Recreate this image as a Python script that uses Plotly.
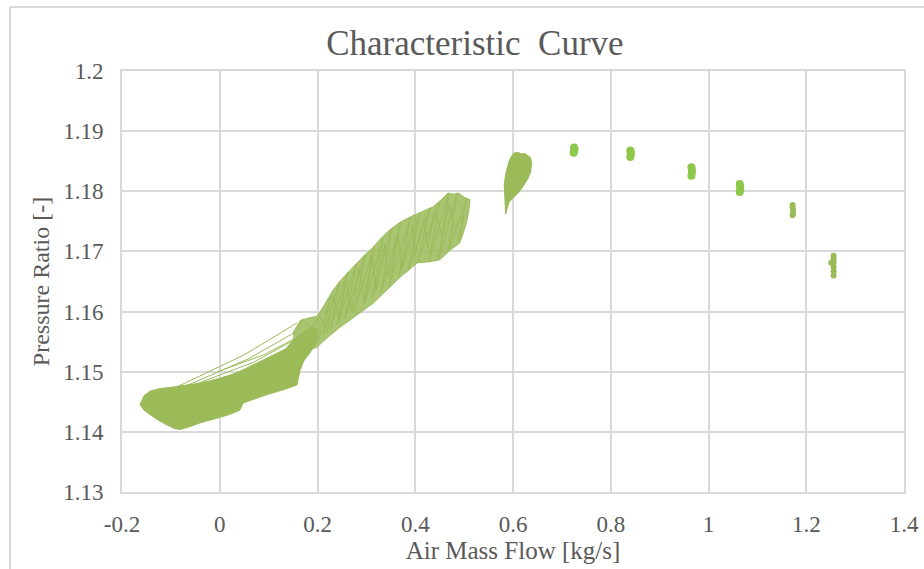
import plotly.graph_objects as go

# ---------------- data ----------------
x_tick_vals = [-0.2, 0, 0.2, 0.4, 0.6, 0.8, 1.0, 1.2, 1.4]
x_tick_text = ["-0.2", "0", "0.2", "0.4", "0.6", "0.8", "1", "1.2", "1.4"]
y_tick_vals = [1.13, 1.14, 1.15, 1.16, 1.17, 1.18, 1.19, 1.2]
y_tick_text = ["1.13", "1.14", "1.15", "1.16", "1.17", "1.18", "1.19", "1.2"]

# dense low-flow band (outline of the overlapping trace)
band_low_x = [-0.163, -0.155, -0.142, -0.122, -0.100, -0.080, -0.040, 0.000, 0.027, 0.050, 0.076, 0.109,
              0.135, 0.150, 0.170, 0.190, 0.200, 0.198, 0.185, 0.172, 0.164, 0.158, 0.130, 0.097, 0.070,
              0.048, 0.041, 0.020, 0.000, -0.040, -0.060, -0.081, -0.095, -0.108, -0.125, -0.143, -0.155, -0.163]
band_low_y = [1.1445, 1.1460, 1.1468, 1.1472, 1.1474, 1.1476, 1.1481, 1.1489, 1.1496, 1.1504, 1.1514, 1.1527,
              1.1538, 1.1552, 1.1566, 1.1575, 1.1570, 1.1550, 1.1532, 1.1518, 1.1502, 1.1478, 1.1470, 1.1462, 1.1455,
              1.1448, 1.1436, 1.1429, 1.1424, 1.1415, 1.1409, 1.1404, 1.1406, 1.1413, 1.1419, 1.1429, 1.1436, 1.1445]

band_high_x = [0.150, 0.165, 0.185, 0.199, 0.215, 0.232, 0.252, 0.273, 0.294, 0.314, 0.330, 0.348, 0.368,
               0.389, 0.410, 0.436, 0.452, 0.467, 0.478, 0.488, 0.500, 0.512, 0.510, 0.506, 0.500, 0.491,
               0.471, 0.450, 0.430, 0.404, 0.385, 0.369, 0.342, 0.314, 0.287, 0.266, 0.246, 0.222, 0.199,
               0.180, 0.165, 0.150]
band_high_y = [1.1565, 1.1585, 1.1590, 1.1592, 1.1612, 1.1636, 1.1656, 1.1674, 1.1692, 1.1707, 1.1722, 1.1736, 1.1748,
               1.1757, 1.1765, 1.1774, 1.1785, 1.1797, 1.1795, 1.1797, 1.1790, 1.1786, 1.1770, 1.1752, 1.1735, 1.1714,
               1.1702, 1.1686, 1.1683, 1.1681, 1.1668, 1.1657, 1.1636, 1.1614, 1.1598, 1.1586, 1.1574, 1.1558, 1.1541,
               1.1535, 1.1540, 1.1555]

# individual strokes of the trace in the upper band
stroke_x = [0.200, 0.228, 0.212, 0.245, 0.226, 0.262, 0.240, 0.280, 0.256, 0.298, 0.275, 0.316, 0.295, 0.334,
            0.312, 0.352, 0.330, 0.370, 0.348, 0.390, 0.366, 0.410, 0.385, 0.430, 0.405, 0.450, 0.428, 0.468,
            0.448, 0.485, 0.468, 0.505, 0.488, 0.500, 0.478, 0.470, 0.455, 0.440, 0.425, 0.418, 0.398, 0.395,
            0.372, 0.365, 0.345, 0.338, 0.320, 0.312, 0.296, 0.285, 0.270, 0.258, 0.245, 0.232, 0.220, 0.205,
            0.185, 0.170, 0.158]
stroke_y = [1.1548, 1.1628, 1.1562, 1.1650, 1.1570, 1.1665, 1.1578, 1.1680, 1.1588, 1.1695, 1.1600, 1.1708, 1.1612, 1.1722,
            1.1622, 1.1738, 1.1632, 1.1748, 1.1645, 1.1756, 1.1658, 1.1764, 1.1668, 1.1772, 1.1682, 1.1784, 1.1684, 1.1795,
            1.1688, 1.1796, 1.1702, 1.1788, 1.1716, 1.1760, 1.1740, 1.1780, 1.1725, 1.1768, 1.1705, 1.1755, 1.1692, 1.1745,
            1.1672, 1.1730, 1.1655, 1.1712, 1.1635, 1.1690, 1.1618, 1.1672, 1.1600, 1.1652, 1.1585, 1.1625, 1.1565, 1.1592,
            1.1572, 1.1588, 1.1568]

# sparse strokes fanning above / below the low band
fan_x = [-0.087, 0.050, 0.158, None, -0.070, 0.060, 0.155, None, -0.050, 0.070, 0.160, None,
         -0.005, 0.090, 0.170, None, -0.163, -0.150, -0.140, -0.125, None,
         -0.148, -0.110, -0.082, -0.054, -0.020, 0.041, 0.048]
fan_y = [1.1475, 1.1528, 1.1581, None, 1.1476, 1.1522, 1.1566, None, 1.1479, 1.1516, 1.1556, None,
         1.1500, 1.1528, 1.1562, None, 1.1445, 1.1463, 1.1460, 1.1468, None,
         1.1432, 1.1412, 1.1404, 1.1411, 1.1428, 1.1441, 1.1448]

# cluster near 0.6 kg/s
clus_x = [0.585, 0.583, 0.582, 0.586, 0.592, 0.598, 0.604, 0.610, 0.617, 0.624, 0.630, 0.636, 0.638,
          0.636, 0.630, 0.624, 0.616, 0.608, 0.600, 0.592, 0.588, 0.585]
clus_y = [1.1762, 1.1788, 1.1812, 1.1832, 1.1850, 1.1860, 1.1864, 1.1865, 1.1862, 1.1863, 1.1860, 1.1856, 1.1845,
          1.1832, 1.1820, 1.1812, 1.1803, 1.1795, 1.1788, 1.1782, 1.1772, 1.1762]

# stable operating points (small tight clusters)
op_a_x = [0.724, 0.725, 0.726, 0.725, None, 0.840, 0.841, 0.841, 0.840, None,
          0.965, 0.966, 0.966, 0.965, None, 1.064, 1.065, 1.065, 1.064]
op_a_y = [1.1864, 1.1867, 1.1870, 1.1873, None, 1.1857, 1.1861, 1.1865, 1.1868, None,
          1.1826, 1.1831, 1.1836, 1.1840, None, 1.1799, 1.1803, 1.1808, 1.1812]
op_b_x = [1.172, 1.173, 1.173, 1.172, 1.172, None, 1.256, 1.256, 1.256, 1.256, 1.256, 1.256, 1.251]
op_b_y = [1.1760, 1.1764, 1.1769, 1.1773, 1.1777, None, 1.1660, 1.1667, 1.1674, 1.1681, 1.1688, 1.1693, 1.1681]

GREEN = "#9BBB59"
BRIGHT = "#8CC84B"
TXT = "#595959"
GRID = "#D9D9D9"
FONT = "Liberation Serif, Times New Roman, serif"

fig = go.Figure()
fig.add_trace(go.Scatter(x=band_low_x, y=band_low_y, mode="lines", fill="toself",
                         fillcolor=GREEN, line=dict(color=GREEN, width=1), hoverinfo="skip"))
fig.add_trace(go.Scatter(x=band_high_x, y=band_high_y, mode="lines", fill="toself",
                         fillcolor="rgba(155,187,89,0.85)", line=dict(color=GREEN, width=1), hoverinfo="skip"))
fig.add_trace(go.Scatter(x=stroke_x, y=stroke_y, mode="lines", line=dict(color=GREEN, width=1)))
fig.add_trace(go.Scatter(x=fan_x, y=fan_y, mode="lines", line=dict(color=GREEN, width=1)))
fig.add_trace(go.Scatter(x=clus_x, y=clus_y, mode="lines", fill="toself", fillcolor=GREEN,
                         line=dict(color=GREEN, width=1)))
fig.add_trace(go.Scatter(x=op_a_x, y=op_a_y, mode="markers",
                         marker=dict(color=BRIGHT, size=8, line=dict(width=0))))
fig.add_trace(go.Scatter(x=op_b_x, y=op_b_y, mode="markers",
                         marker=dict(color=GREEN, size=6, line=dict(width=0))))

# chart-area frame (Excel style, only left/top visible in the crop)
fig.add_shape(type="line", xref="paper", yref="paper", x0=-0.1432, x1=1.2, y0=1.152, y1=1.152,
              line=dict(color=GRID, width=2))
fig.add_shape(type="line", xref="paper", yref="paper", x0=-0.1432, x1=-0.1432, y0=1.152, y1=-0.3,
              line=dict(color=GRID, width=2))

fig.update_layout(
    width=924, height=569,
    margin=dict(l=122, r=20, t=71, b=77, autoexpand=False),
    paper_bgcolor="white", plot_bgcolor="white",
    showlegend=False,
    title=dict(text="Characteristic  Curve", x=0.514, xref="container", xanchor="center",
               y=1 - 43 / 569, yref="container", yanchor="middle",
               font=dict(family=FONT, size=35, color=TXT)),
    font=dict(family=FONT, color=TXT),
)
fig.update_xaxes(range=[-0.2, 1.4], tickvals=x_tick_vals, ticktext=x_tick_text, automargin=False,
                 showgrid=True, gridcolor=GRID, gridwidth=2, zeroline=False,
                 showline=True, linecolor=GRID, linewidth=2, mirror=True, ticks="",
                 ticklabelstandoff=10,
                 tickfont=dict(family=FONT, size=23, color=TXT),
                 title=dict(text="Air Mass Flow [kg/s]", standoff=2,
                            font=dict(family=FONT, size=25, color=TXT)))
fig.update_yaxes(range=[1.13, 1.2], tickvals=y_tick_vals, ticktext=y_tick_text, automargin=False,
                 showgrid=True, gridcolor=GRID, gridwidth=2, zeroline=False,
                 showline=True, linecolor=GRID, linewidth=2, mirror=True, ticks="",
                 ticklabelstandoff=12,
                 tickfont=dict(family=FONT, size=23, color=TXT),
                 title=dict(text="Pressure Ratio [-]", standoff=7,
                            font=dict(family=FONT, size=24, color=TXT)))

fig.write_html("out.html", config={"displayModeBar": False},
               post_script="document.body.style.margin='0';document.body.style.overflow='hidden';")
